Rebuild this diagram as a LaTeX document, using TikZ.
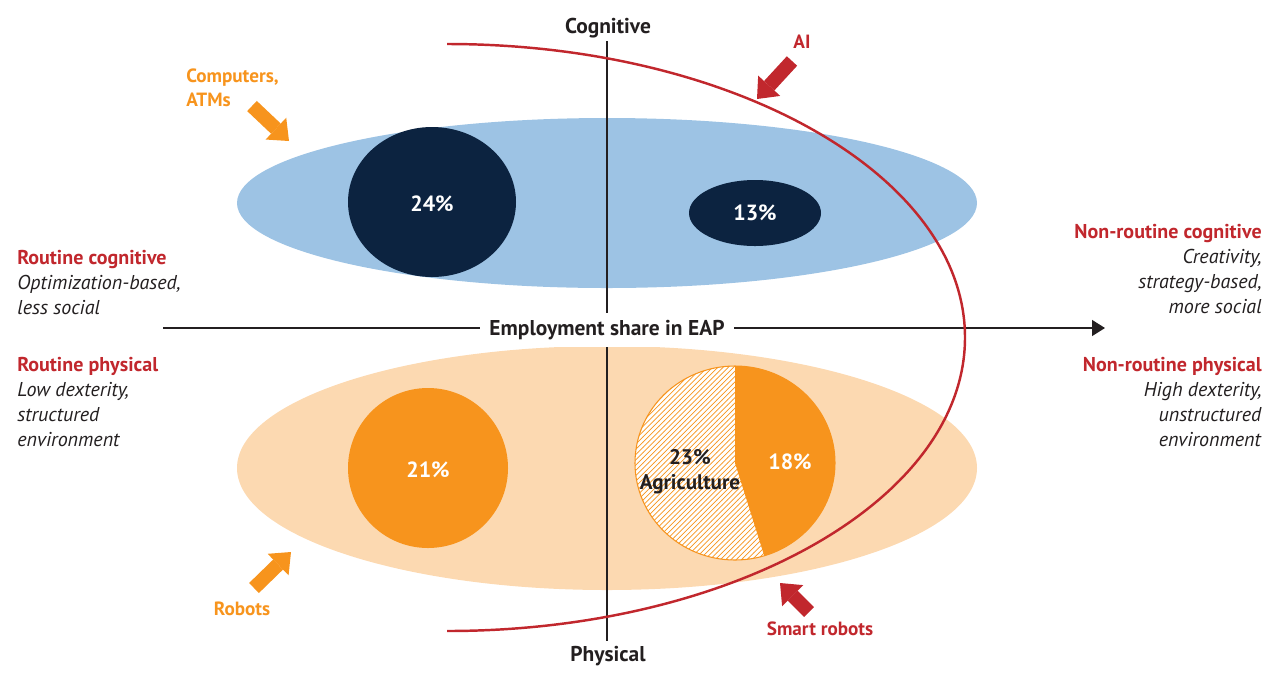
\documentclass[tikz,border=0pt]{standalone}
\usepackage{fontspec}
\setmainfont{PT Sans}
\usetikzlibrary{arrows.meta,patterns}
\definecolor{tred}{HTML}{C1272D}
\definecolor{torange}{HTML}{F7941D}
\definecolor{lorange}{HTML}{FCD9B1}
\definecolor{lblue}{HTML}{9DC3E4}
\definecolor{navy}{HTML}{0C2340}
\definecolor{tdark}{HTML}{231F20}

\begin{document}
\begin{tikzpicture}[x=0.02cm,y=0.02cm,
	txt/.style={inner sep=0pt,font=\fontsize{11.4}{14.2}\selectfont,text=tdark},
	head/.style={inner sep=0pt,font=\fontsize{12.2}{14.2}\selectfont\bfseries,text=tdark},
	tag/.style={inner sep=0pt,font=\fontsize{10.9}{14.2}\selectfont\bfseries},
	pct/.style={inner sep=0pt,font=\fontsize{12.5}{14.2}\selectfont\bfseries,text=white},
	fat/.style={line width=0.28cm,-{Triangle[length=0.36cm,width=0.6cm,line width=0pt]}}]
	\useasboundingbox (0,0) rectangle (1278,-674);
\fill[lblue] (607,-203) ellipse [x radius=370,y radius=85];
\fill[lorange] (607,-468) ellipse [x radius=370,y radius=122];
\fill[navy] (432,-202) ellipse [x radius=84,y radius=75];
\fill[navy] (755,-213) ellipse [x radius=66,y radius=33];
\fill[torange] (428,-468) circle [radius=80];
\fill[white] (735,-463) ellipse [x radius=100,y radius=97];
\fill[pattern=north east lines,pattern color=torange] (735,-463) ellipse [x radius=100,y radius=97];
\fill[torange] (735,-463) -- ([shift={(735,-463)}]90:100 and 97) arc [start angle=90,end angle=-73,x radius=100,y radius=97] -- cycle;
\draw[torange,line width=0.6pt] (735,-463) ellipse [x radius=100,y radius=97];

\coordinate (yt) at (607,-41);
\coordinate (yb) at (607,-641);
\coordinate (xl) at (163,-328);
\coordinate (xr) at (1105,-328);
\draw[tdark,line width=0.8pt] (yt) -- (yb);
\draw[tdark,line width=0.8pt,-{Triangle[length=0.26cm,width=0.32cm]}] (xl) -- (xr);
\node[head,fill=white,inner xsep=0.18cm,inner ysep=4pt] (eap) at (607,-330) {Employment share in EAP};

\node[head,anchor=base] (cog) at (608,-33) {Cognitive};
\node[head,anchor=base] (phys) at (608,-661) {Physical};

\node[pct] (p24) at (432,-204) {24\%};
\node[pct] (p13) at (755,-213) {13\%};
\node[pct] (p21) at (428,-470) {21\%};
\node[pct] (p18) at (790,-462) {18\%};
\node[pct,font=\fontsize{12}{14.2}\selectfont\bfseries,text=tdark,align=center] (p23) at (690,-472) {23\%\\Agriculture};

\node[txt,anchor=north west,align=left] (rc) at (17,-250) {\textcolor{tred}{\bfseries Routine cognitive}\\\textit{Optimization-based,}\\\textit{less social}};
\node[txt,anchor=north west,align=left] (rp) at (17,-357) {\textcolor{tred}{\bfseries Routine physical}\\\textit{Low dexterity,}\\\textit{structured}\\\textit{environment}};
\node[txt,anchor=north east,align=right] (nc) at (1262,-224) {\textcolor{tred}{\bfseries Non-routine cognitive}\\\textit{Creativity,}\\\textit{strategy-based,}\\\textit{more social}};
\node[txt,anchor=north east,align=right] (np) at (1262,-357) {\textcolor{tred}{\bfseries Non-routine physical}\\\textit{High dexterity,}\\\textit{unstructured}\\\textit{environment}};

\node[tag,text=torange,anchor=north west,align=left] (comp) at (186,-68) {Computers,\\ATMs};
\node[tag,text=tred,anchor=base] (ai) at (802,-48) {AI};
\node[tag,text=torange,anchor=base] (rob) at (242,-615) {Robots};
\node[tag,text=tred,anchor=base] (srob) at (820,-635) {Smart robots};

\coordinate (c1) at (252,-106);
\coordinate (c2) at (289,-141);
\coordinate (a1) at (792,-61);
\coordinate (a2) at (757,-99);
\coordinate (r1) at (254,-588);
\coordinate (r2) at (291,-552);
\coordinate (s1) at (809,-612);
\coordinate (s2) at (780,-583);
\draw[fat,torange] (c1) -- (c2);
\draw[fat,tred] (a1) -- (a2);
\draw[fat,torange] (r1) -- (r2);
\draw[fat,tred] (s1) -- (s2);

\draw[tred,line width=1.4pt] (447,-44) arc [start angle=90,end angle=-90,x radius=518,y radius=293.5];

\end{tikzpicture}
\end{document}
